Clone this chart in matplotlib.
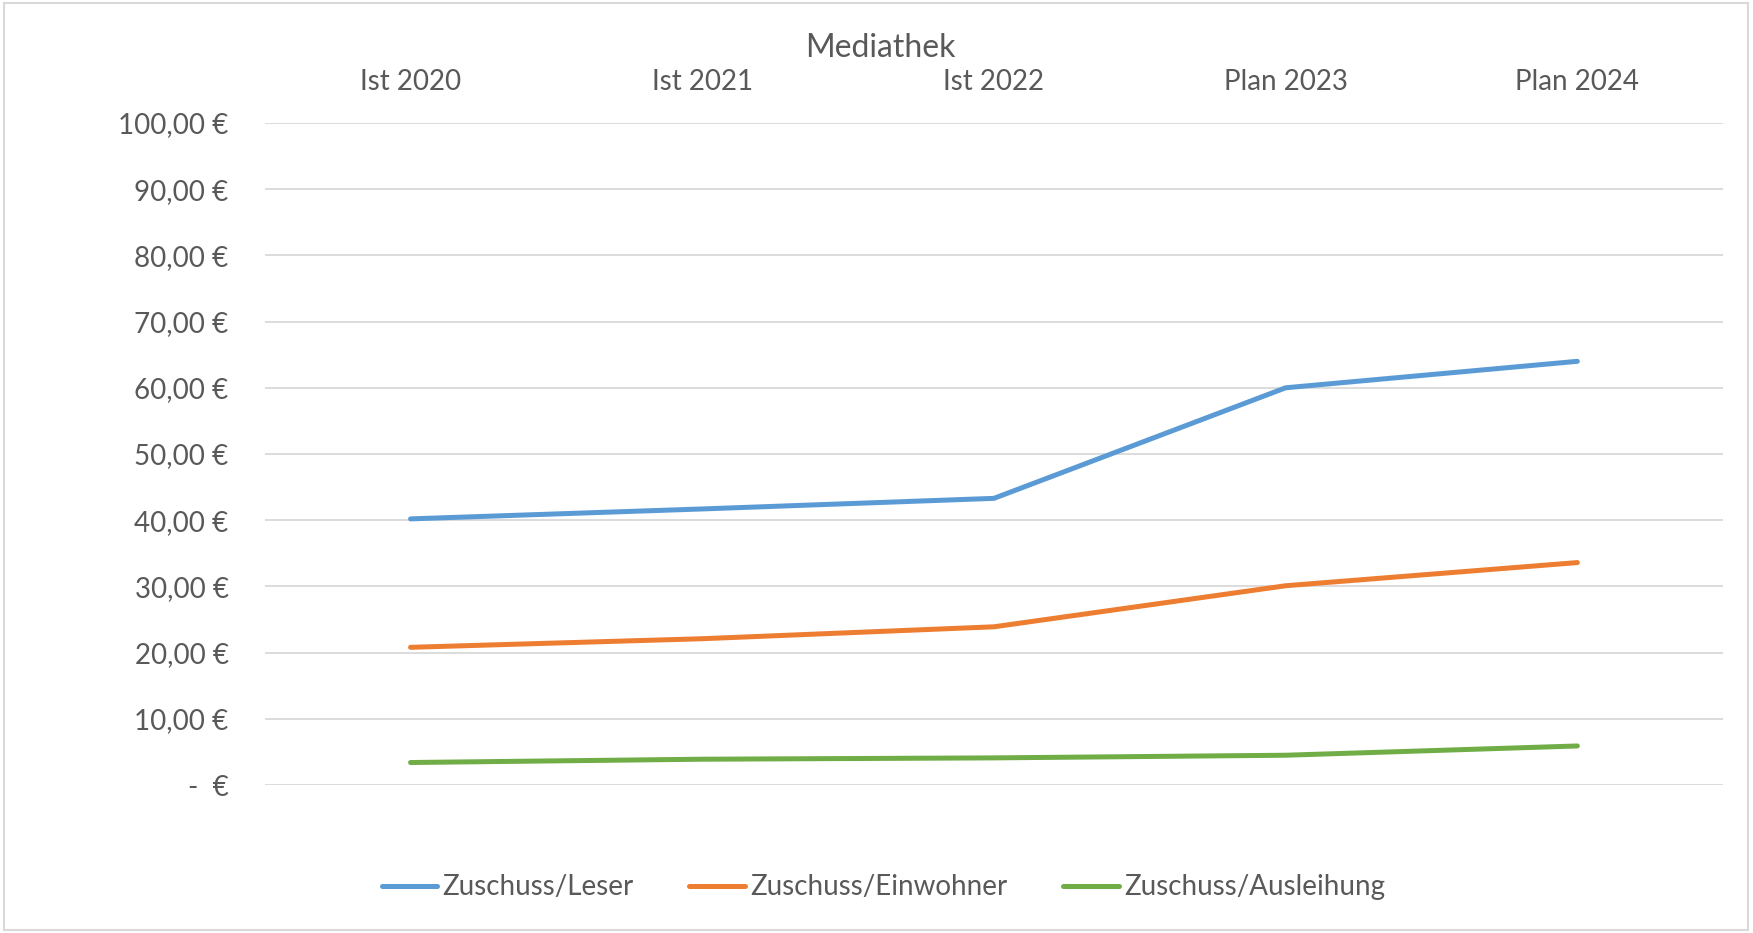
import matplotlib.pyplot as plt
from matplotlib.ticker import FuncFormatter, MultipleLocator
from matplotlib.patches import Rectangle

# --- Chart data ---
categories = ["Ist 2020", "Ist 2021", "Ist 2022", "Plan 2023", "Plan 2024"]
zuschuss_leser = [40.2, 41.7, 43.3, 60.0, 64.0]
zuschuss_einwohner = [20.8, 22.1, 23.9, 30.1, 33.6]
zuschuss_ausleihung = [3.4, 3.9, 4.1, 4.5, 5.9]

series_names = ["Zuschuss/Leser", "Zuschuss/Einwohner", "Zuschuss/Ausleihung"]
series_colors = ["#5b9bd5", "#ed7d31", "#70ad47"]

plt.rcParams['font.family'] = ['Lato', 'DejaVu Sans']
text_color = "#595959"


def euro_fmt(v, pos):
    # Excel accounting style: zero is shown as a dash
    if abs(v) < 1e-9:
        return "-  €"
    return f"{v:,.2f} €".replace(",", "X").replace(".", ",").replace("X", ".")


fig = plt.figure(figsize=(17.53, 9.33), dpi=100)
ax = fig.add_axes([0.151, 0.1586, 0.832, 0.7096])

x = range(len(categories))
for vals, name, col in zip([zuschuss_leser, zuschuss_einwohner, zuschuss_ausleihung],
                           series_names, series_colors):
    ax.plot(x, vals, color=col, linewidth=3.6, label=name, solid_capstyle='round')

ax.set_xlim(-0.5, len(categories) - 0.5)
ax.set_ylim(0, 100)
ax.yaxis.set_major_locator(MultipleLocator(10))
ax.yaxis.set_major_formatter(FuncFormatter(euro_fmt))
ax.grid(axis='y', color="#d9d9d9", linewidth=1.3)
ax.set_axisbelow(True)

ax.xaxis.tick_top()
ax.set_xticks(list(x))
ax.set_xticklabels(categories)
ax.tick_params(axis='both', length=0, labelsize=20, labelcolor=text_color)
ax.tick_params(axis='x', pad=20)
ax.tick_params(axis='y', pad=26)
for s in ax.spines.values():
    s.set_visible(False)

fig.text(0.502, 0.9486, "Mediathek", ha='center', va='center', fontsize=23, color=text_color)

fig.legend(loc='center', bbox_to_anchor=(0.504, 0.049), ncol=3, frameon=False,
           fontsize=20, labelcolor=text_color, handlelength=2.0, handletextpad=0.2,
           columnspacing=2.0)

# light chart border like the original export
fig.patches.append(Rectangle((0.002, 0.003), 0.995, 0.994, transform=fig.transFigure,
                             fill=False, edgecolor="#d9d9d9", linewidth=1.5))

fig.savefig("out.png", dpi=100)
